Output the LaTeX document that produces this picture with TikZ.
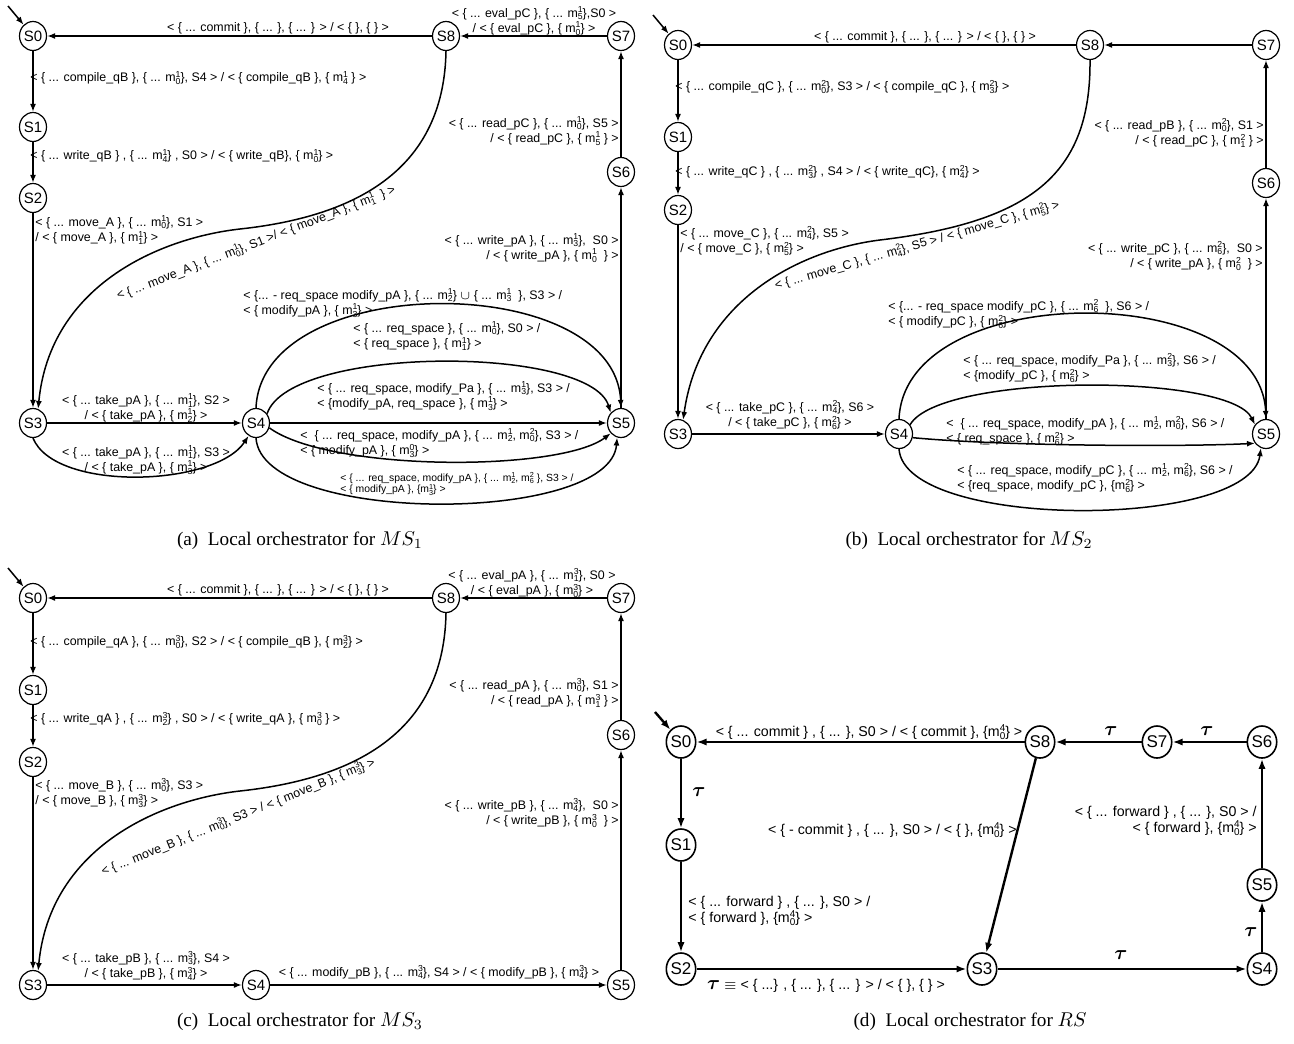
\documentclass[tikz,border=0pt]{standalone}
\usepackage{amsmath,amssymb,bm}
\usepackage{graphicx}
\usepackage{fontspec}
\setmainfont{Liberation Serif}
\newfontfamily\arialfont{Liberation Sans}
\usetikzlibrary{arrows.meta,shapes.geometric}

% message with sub- and superscript
\newcommand{\mx}[2]{m\rlap{\raisebox{-0.4ex}{\scalebox{0.7}{#1}}}\raisebox{0.7ex}{\scalebox{0.7}{#2}}}

\begin{document}
\begin{tikzpicture}[x=0.5pt, y=-0.5pt,
  state/.style={ellipse, draw, line width=0.6pt, inner sep=0pt, minimum width=13.5pt, minimum height=14.5pt, font=\arialfont\fontsize{7.5}{8}\selectfont},
  stated/.style={state, line width=0.8pt, minimum width=14.5pt, minimum height=16pt, font=\arialfont\fontsize{8.5}{9}\selectfont},
  tr/.style={line width=0.75pt, -{Latex[length=4pt,width=3pt]}},
  trd/.style={line width=1.2pt, -{Latex[length=5pt,width=3.6pt]}},
  lbl/.style={font=\arialfont\fontsize{6.2}{6.5}\selectfont, inner sep=0pt, align=left},
  lbls/.style={lbl, font=\arialfont\fontsize{5.2}{5.6}\selectfont},
  lbld/.style={lbl, font=\arialfont\fontsize{7.1}{8}\selectfont},
  tau/.style={inner sep=0pt, font=\fontsize{10}{10}\selectfont},
  captext/.style={inner sep=0pt, font=\fontsize{9.6}{11}\selectfont}]
\useasboundingbox (0,0) rectangle (1294,1043);

% ---------- (a) MS1
\node[state] (a0) at (33,36) {S0};
\node[state] (a1) at (33,127) {S1};
\node[state] (a2) at (33,198) {S2};
\node[state] (a3) at (33,423) {S3};
\node[state] (a4) at (256,423) {S4};
\node[state] (a5) at (621,423) {S5};
\node[state] (a6) at (621,172) {S6};
\node[state] (a7) at (621,36) {S7};
\node[state] (a8) at (446,36) {S8};
\coordinate (ai) at (8,6);
\draw[tr] (ai) -- (a0);
\draw[tr] (a8) -- (a0);
\draw[tr] (a7) -- (a8);
\draw[tr] (a0) -- (a1);
\draw[tr] (a1) -- (a2);
\draw[tr] (a2) -- (a3);
\draw[tr] (a3) -- (a4);
\draw[tr] (a4) -- (a5);
\draw[tr] (a5) -- (a6);
\draw[tr] (a6) -- (a7);
\draw[tr] (a8.south) .. controls (444,160) and (370,215) .. (240,229) .. controls (160,238) and (50,285) .. (a3.70);
\draw[tr] (a3.south) .. controls (55,492) and (215,487) .. (a4.240);
\draw[tr] (a4.north) .. controls (262,270) and (615,270) .. (a5.north);
\draw[tr] (a4.40) .. controls (290,345) and (590,345) .. (a5.135);
\draw[tr] (a4.-20) .. controls (330,472) and (560,472) .. (a5.-135);
\draw[tr] (a4.south) .. controls (262,525) and (610,525) .. (a5.-105);
\node[lbl] (ta1) at (278,28) {< \{ ... commit \}, \{ ... \}, \{ ... \} > / < \{ \}, \{ \} >};
\node[lbl, align=center] (ta2) at (534,21) {< \{ ... eval\_pC \}, \{ ... \mx{5}{1}\},S0 >\\/ < \{ eval\_pC \}, \{ \mx{0}{1}\} >};
\node[lbl, anchor=west] (ta3) at (30,78) {< \{ ... compile\_qB \}, \{ ... \mx{0}{1}\}, S4 > / < \{ compile\_qB \}, \{ \mx{4}{1} \} >};
\node[lbl, anchor=west] (ta4) at (30,156) {< \{ ... write\_qB \} , \{ ... \mx{4}{1}\} , S0 > / < \{ write\_qB\}, \{ \mx{0}{1}\} >};
\node[lbl, anchor=west] (ta5) at (35,230) {< \{ ... move\_A \}, \{ ... \mx{0}{1}\}, S1 >\\/ < \{ move\_A \}, \{ \mx{1}{1}\} >};
\node[lbl, anchor=east, align=right] (ta6) at (619,131) {< \{ ... read\_pC \}, \{ ... \mx{0}{1}\}, S5 >\\/ < \{ read\_pC \}, \{ \mx{5}{1} \} >};
\node[lbl, anchor=east, align=right] (ta7) at (619,248) {< \{ ... write\_pA \}, \{ ... \mx{3}{1}\}, \ S0 >\\/ < \{ write\_pA \}, \{ \mx{0}{1} \ \} >};
\node[lbl, rotate=21] (ta8) at (256,243) {< \{ ... move\_A \}, \{ ... \mx{0}{1}\}, S1 >/ < \{ move\_A \}, \{ \mx{1}{1} \ \} >};
\node[lbl, anchor=west] (ta9) at (243,303) {< \{... - req\_space modify\_pA \}, \{ ... \mx{2}{1}\} $\cup$ \{ ... \mx{3}{1} \ \}, S3 > /\\< \{ modify\_pA \}, \{ \mx{3}{1}\} >};
\node[lbl, anchor=west] (ta10) at (353,336) {< \{ ... req\_space \}, \{ ... \mx{0}{1}\}, S0 > /\\< \{ req\_space \}, \{ \mx{1}{1}\} >};
\node[lbl, anchor=west] (ta11) at (317,396) {< \{ ... req\_space, modify\_Pa \}, \{ ... \mx{3}{1}\}, S3 > /\\< \{modify\_pA, req\_space \}, \{ \mx{3}{1}\} >};
\node[lbl, anchor=west] (ta12) at (300,443) {< \ \{ ... req\_space, modify\_pA \}, \{ ... \mx{2}{1}, \mx{0}{2}\}, S3 > /\\< \{ modify\_pA \}, \{ \mx{3}{0}\} >};
\node[lbls, anchor=west] (ta13) at (340,484) {< \{ ... req\_space, modify\_pA \}, \{ ... \mx{2}{1}, \mx{6}{2} \}, S3 > /\\< \{ modify\_pA \}, \{\mx{3}{1}\} >};
\node[lbl, align=center] (ta14) at (146,408) {< \{ ... take\_pA \}, \{ ... \mx{1}{1}\}, S2 >\\/ < \{ take\_pA \}, \{ \mx{2}{1}\} >};
\node[lbl, align=center] (ta15) at (146,460) {< \{ ... take\_pA \}, \{ ... \mx{1}{1}\}, S3 >\\/ < \{ take\_pA \}, \{ \mx{3}{1}\} >};
\node[captext] (capa) at (300,541) {(a)\ \ Local orchestrator for $MS_1$};

% ---------- (b) MS2
\node[state] (b0) at (678,45) {S0};
\node[state] (b1) at (678,137) {S1};
\node[state] (b2) at (678,210) {S2};
\node[state] (b3) at (678,434) {S3};
\node[state] (b4) at (899,434) {S4};
\node[state] (b5) at (1266,434) {S5};
\node[state] (b6) at (1266,183) {S6};
\node[state] (b7) at (1266,45) {S7};
\node[state] (b8) at (1090,45) {S8};
\coordinate (bi) at (653,15);
\draw[tr] (bi) -- (b0);
\draw[tr] (b8) -- (b0);
\draw[tr] (b7) -- (b8);
\draw[tr] (b0) -- (b1);
\draw[tr] (b1) -- (b2);
\draw[tr] (b2) -- (b3);
\draw[tr] (b3) -- (b4);
\draw[tr] (b5) -- (b6);
\draw[tr] (b6) -- (b7);
\draw[tr] (b8.south) .. controls (1091,175) and (1030,222) .. (880,240) .. controls (800,250) and (700,300) .. (b3.70);
\draw[tr] (b4.north) .. controls (905,279) and (1260,279) .. (b5.north);
\draw[tr] (b4.40) .. controls (940,373) and (1230,373) .. (b5.140);
\draw[tr] (b4.-15) .. controls (1000,446) and (1180,447) .. (b5.-140);
\draw[tr] (b4.south) .. controls (905,530) and (1250,530) .. (b5.-110);
\node[lbl] (tb1) at (925,37) {< \{ ... commit \}, \{ ... \}, \{ ... \} > / < \{ \}, \{ \} >};
\node[lbl, anchor=west] (tb2) at (675,87) {< \{ ... compile\_qC \}, \{ ... \mx{0}{2}\}, S3 > / < \{ compile\_qC \}, \{ \mx{3}{2}\} >};
\node[lbl, anchor=west] (tb3) at (675,172) {< \{ ... write\_qC \} , \{ ... \mx{3}{2}\} , S4 > / < \{ write\_qC\}, \{ \mx{4}{2}\} >};
\node[lbl, anchor=west] (tb4) at (680,241) {< \{ ... move\_C \}, \{ ... \mx{4}{2}\}, S5 >\\/ < \{ move\_C \}, \{ \mx{5}{2}\} >};
\node[lbl, anchor=east, align=right] (tb5) at (1264,133) {< \{ ... read\_pB \}, \{ ... \mx{0}{2}\}, S1 >\\/ < \{ read\_pC \}, \{ \mx{1}{2} \} >};
\node[lbl, anchor=east, align=right] (tb6) at (1263,256) {< \{ ... write\_pC \}, \{ ... \mx{6}{2}\}, \ S0 >\\/ < \{ write\_pA \}, \{ \mx{0}{2} \ \} >};
\node[lbl, rotate=16] (tb7) at (917,245) {< \{ ... move\_C \}, \{ ... \mx{4}{2}\}, S5 > / < \{ move\_C \}, \{ \mx{5}{2}\} >};
\node[lbl, anchor=west] (tb8) at (888,314) {< \{... - req\_space modify\_pC \}, \{ ... \mx{6}{2} \ \}, S6 > /\\< \{ modify\_pC \}, \{ \mx{6}{2}\} >};
\node[lbl, anchor=west] (tb9) at (963,368) {< \{ ... req\_space, modify\_Pa \}, \{ ... \mx{3}{2}\}, S6 > /\\< \{modify\_pC \}, \{ \mx{6}{2}\} >};
\node[lbl, anchor=west] (tb10) at (946,431) {< \ \{ ... req\_space, modify\_pA \}, \{ ... \mx{2}{1}, \mx{0}{2}\}, S6 > /\\< \{ req\_space \}, \{ \mx{6}{2}\} >};
\node[lbl, anchor=west] (tb11) at (957,478) {< \{ ... req\_space, modify\_pC \}, \{ ... \mx{2}{1}, \mx{6}{2}\}, S6 > /\\< \{req\_space, modify\_pC \}, \{\mx{6}{2}\} >};
\node[lbl, align=center] (tb12) at (790,415) {< \{ ... take\_pC \}, \{ ... \mx{4}{2}\}, S6 >\\/ < \{ take\_pC \}, \{ \mx{6}{2}\} >};
\node[captext] (capb) at (969,541) {(b)\ \ Local orchestrator for $MS_2$};

% ---------- (c) MS3
\begin{scope}[shift={(0,562)}]
\node[state] (c0) at (33,36) {S0};
\node[state] (c1) at (33,128) {S1};
\node[state] (c2) at (33,200) {S2};
\node[state] (c3) at (33,423) {S3};
\node[state] (c4) at (256,423) {S4};
\node[state] (c5) at (621,423) {S5};
\node[state] (c6) at (621,173) {S6};
\node[state] (c7) at (621,36) {S7};
\node[state] (c8) at (446,36) {S8};
\coordinate (ci) at (8,6);
\draw[tr] (ci) -- (c0);
\draw[tr] (c8) -- (c0);
\draw[tr] (c7) -- (c8);
\draw[tr] (c0) -- (c1);
\draw[tr] (c1) -- (c2);
\draw[tr] (c2) -- (c3);
\draw[tr] (c3) -- (c4);
\draw[tr] (c4) -- (c5);
\draw[tr] (c5) -- (c6);
\draw[tr] (c6) -- (c7);
\draw[tr] (c8.south) .. controls (444,160) and (370,215) .. (240,229) .. controls (160,238) and (50,285) .. (c3.70);
\node[lbl] (tc1) at (278,28) {< \{ ... commit \}, \{ ... \}, \{ ... \} > / < \{ \}, \{ \} >};
\node[lbl, align=center] (tc2) at (532,21) {< \{ ... eval\_pA \}, \{ ... \mx{1}{3}\}, S0 >\\/ < \{ eval\_pA \}, \{ \mx{0}{3}\} >};
\node[lbl, anchor=west] (tc3) at (30,80) {< \{ ... compile\_qA \}, \{ ... \mx{0}{3}\}, S2 > / < \{ compile\_qB \}, \{ \mx{2}{3}\} >};
\node[lbl, anchor=west] (tc4) at (30,157) {< \{ ... write\_qA \} , \{ ... \mx{2}{3}\} , S0 > / < \{ write\_qA \}, \{ \mx{0}{3} \} >};
\node[lbl, anchor=west] (tc5) at (35,231) {< \{ ... move\_B \}, \{ ... \mx{0}{3}\}, S3 >\\/ < \{ move\_B \}, \{ \mx{3}{3}\} >};
\node[lbl, anchor=east, align=right] (tc6) at (619,131) {< \{ ... read\_pA \}, \{ ... \mx{0}{3}\}, S1 >\\/ < \{ read\_pA \}, \{ \mx{1}{3} \} >};
\node[lbl, anchor=east, align=right] (tc7) at (619,251) {< \{ ... write\_pB \}, \{ ... \mx{4}{3}\}, \ S0 >\\/ < \{ write\_pB \}, \{ \mx{0}{3} \ \} >};
\node[lbl, rotate=22] (tc8) at (238,255) {< \{ ... move\_B \}, \{ ... \mx{0}{3}\}, S3 > / < \{ move\_B \}, \{ \mx{3}{3}\} >};
\node[lbl, align=center] (tc9) at (146,404) {< \{ ... take\_pB \}, \{ ... \mx{3}{3}\}, S4 >\\/ < \{ take\_pB \}, \{ \mx{4}{3}\} >};
\node[lbl] (tc10) at (439,410) {< \{ ... modify\_pB \}, \{ ... \mx{4}{3}\}, S4 > / < \{ modify\_pB \}, \{ \mx{4}{3}\} >};
\node[captext] (capc) at (300,460) {(c)\ \ Local orchestrator for $MS_3$};
\end{scope}

% ---------- (d) RS
\node[stated] (d0) at (681,742) {S0};
\node[stated] (d1) at (681,845) {S1};
\node[stated] (d2) at (681,969) {S2};
\node[stated] (d3) at (982,969) {S3};
\node[stated] (d4) at (1262,969) {S4};
\node[stated] (d5) at (1262,885) {S5};
\node[stated] (d6) at (1262,742) {S6};
\node[stated] (d7) at (1157,742) {S7};
\node[stated] (d8) at (1040,742) {S8};
\coordinate (di) at (655,712);
\draw[trd] (di) -- (d0);
\draw[trd] (d8) -- (d0);
\draw[trd] (d7) -- (d8);
\draw[trd] (d6) -- (d7);
\draw[trd] (d0) -- (d1);
\draw[trd] (d1) -- (d2);
\draw[trd] (d2) -- (d3);
\draw[trd] (d3) -- (d4);
\draw[trd] (d4) -- (d5);
\draw[trd] (d5) -- (d6);
\draw[trd] (d8) -- (d3);
\node[lbld] (td1) at (869,732) {< \{ ... commit \} , \{ ... \}, S0 > / < \{ commit \}, \{\mx{0}{4}\} >};
\node[tau] (td2) at (1111,731) {$\bm{\tau}$};
\node[tau] (td3) at (1207,731) {$\bm{\tau}$};
\node[tau] (td4) at (699,792) {$\bm{\tau}$};
\node[lbld, anchor=west] (td5) at (688,911) {< \{ ... forward \} , \{ ... \}, S0 > /\\< \{ forward \}, \{\mx{0}{4}\} >};
\node[lbld, anchor=east] (td6) at (1017,830) {< \{ - commit \} , \{ ... \}, S0 > / < \{ \}, \{\mx{0}{4}\} >};
\node[lbld, anchor=east, align=right] (td7) at (1257,821) {< \{ ... forward \} , \{ ... \}, S0 > /\\< \{ forward \}, \{\mx{0}{4}\} >};
\node[lbld] (td8) at (826,986) {{\fontsize{10}{10}\selectfont$\bm{\tau}$} $\equiv$ < \{ ...\} , \{ ... \}, \{ ... \} > / < \{ \}, \{ \} >};
\node[tau] (td9) at (1121,955) {$\bm{\tau}$};
\node[tau] (td10) at (1251,932) {$\bm{\tau}$};
\node[captext] (capd) at (970,1022) {(d)\ \ Local orchestrator for $RS$};
\end{tikzpicture}
\end{document}
